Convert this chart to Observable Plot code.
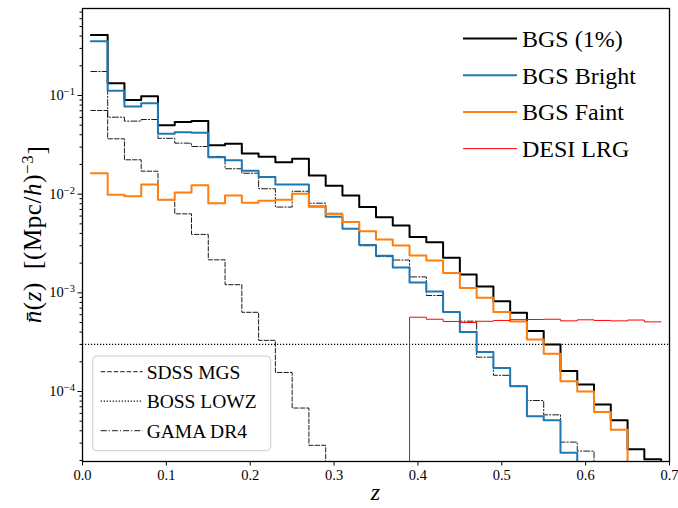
<!DOCTYPE html>
<html><head><meta charset="utf-8">
<script src="https://cdn.jsdelivr.net/npm/d3@7"></script>
<script src="https://cdn.jsdelivr.net/npm/@observablehq/plot@0.6"></script>
<style>
html,body{margin:0;padding:0;background:#fff;}
#chart svg{display:block;}
</style>
</head><body><div id="chart"></div>
<script>
// ---- data ----
const binLeft = [0.01,0.03,0.05,0.07,0.09,0.11,0.13,0.15,0.17,0.19,0.21,0.23,0.25,0.27,0.29,0.31,0.33,0.35,0.37,0.39,0.41,0.43,0.45,0.47,0.49,0.51,0.53,0.55,0.57,0.59,0.61,0.63,0.65,0.67];
const binEnd = 0.69;

const seriesNames = ["BGS (1%)", "BGS Bright", "BGS Faint", "DESI LRG"];
const refNames = ["SDSS MGS", "BOSS LOWZ", "GAMA DR4"];

const bgsAll = [0.41,0.133,0.090,0.098,0.050,0.054,0.055,0.0314,0.0324,0.0259,0.0239,0.0210,0.0229,0.0155,0.0122,0.0097,0.0074,0.00585,0.00482,0.00367,0.00326,0.00227,0.00153,0.00116,0.00082,0.00063,0.00041,0.00030,0.000161,0.000118,7.4e-5,5.1e-5,2.6e-5,2.06e-5];
const bgsBright = [0.355,0.112,0.0774,0.0836,0.0409,0.0425,0.0419,0.0237,0.0221,0.0173,0.0149,0.0125,0.0125,0.0075,0.0059,0.00447,0.00306,0.00237,0.00181,0.00127,0.00103,0.00064,0.00040,0.000251,0.000173,0.000113,5.6e-5,5.1e-5,2.4e-5,null,null,null,null,null];
const bgsFaint = [0.0163,0.00986,0.0095,0.0125,0.00877,0.0104,0.0123,0.0081,0.0097,0.0082,0.0086,0.00877,0.0101,0.0075,0.0063,0.00522,0.00422,0.00347,0.00302,0.00239,0.00213,0.00159,0.00112,0.00089,0.00064,0.000513,0.000337,0.000241,0.000127,0.00010,6.2e-5,4.1e-5,null,null];
const desiLRG = [null,null,null,null,null,null,null,null,null,null,null,null,null,null,null,null,null,null,null,0.000566,0.00054,0.000513,0.00050,0.000515,0.000525,0.000535,0.000537,0.00054,0.00052,0.000533,0.000525,0.00052,0.00053,0.000508];
const sdssMGS = [0.0705,0.0364,0.0223,0.0171,0.0088,0.00632,0.00391,0.00216,0.00121,0.000635,0.00033,0.000156,6.8e-5,2.85e-5,null,null,null,null,null,null,null,null,null,null,null,null,null,null,null,null,null,null,null,null];
const gamaDR4 = [0.175,0.0603,0.055,0.0571,0.0368,0.0329,0.0304,0.0241,0.0181,0.0163,0.01135,0.0074,0.0107,0.0081,0.0064,0.0052,0.0030,0.00233,0.00215,0.00145,0.00094,0.00064,0.000516,0.000223,0.000146,0.000114,8.1e-5,5.8e-5,3.07e-5,2.49e-5,null,null,null,null];
const bossLOWZ = [3.0e-4];

const xTicks = [0.0,0.1,0.2,0.3,0.4,0.5,0.6,0.7];
const yTicks = [1e-4,1e-3,1e-2,1e-1];

// ---- helpers ----
const FLOOR = 1e-9; // stands in for an empty bin (zero on a log axis)
function steps(values, dropAtEnd) {
  const idx = values.map((v,i)=> v==null ? -1 : i).filter(i=>i>=0);
  const i0 = idx[0], i1 = idx[idx.length-1];
  const pts = [];
  if (i0 > 0) pts.push({z: binLeft[i0-1], n: FLOOR});
  for (let i=i0;i<=i1;i++) pts.push({z: binLeft[i], n: values[i]});
  const right = i1+1 < binLeft.length ? binLeft[i1+1] : binEnd;
  pts.push({z: right, n: dropAtEnd ? FLOOR : values[i1]});
  return pts;
}
const yMinor = [];
for (let e=-5;e<=0;e++) for (let m=2;m<=9;m++) { const v = m*Math.pow(10,e); if (v>1.95e-5 && v<0.76) yMinor.push(v); }

const W = 678, H = 508, mL = 82, mR = 9, mT = 8, mB = 47;
const C = {all:"#000000", bright:"#1f77b4", faint:"#ff7f0e", lrg:"#ff0000"};
const DASH = "4.5,2", DOT = "1.2,1.8", DASHDOT = "6,2,1.2,2";
const SERIF = "'Liberation Serif', serif";

const chart = Plot.plot({
  width: W, height: H,
  marginTop: mT, marginBottom: mB, marginLeft: mL, marginRight: mR,
  style: {fontFamily: SERIF, fontSize: "14.5px", background: "#fff", color: "#000"},
  x: {domain: [0, 0.7]},
  y: {type: "log", domain: [1.953e-5, 0.7615]},
  marks: [
    Plot.ruleY(bossLOWZ, {stroke: "#000", strokeWidth: 1.2, strokeDasharray: DOT}),
    Plot.line(steps(sdssMGS, true), {x: "z", y: "n", curve: "step-after", stroke: "#000", strokeWidth: 0.9, strokeDasharray: DASH, clip: true}),
    Plot.line(steps(gamaDR4, true), {x: "z", y: "n", curve: "step-after", stroke: "#000", strokeWidth: 0.9, strokeDasharray: DASHDOT, clip: true}),
    Plot.line(steps(bgsAll, true), {x: "z", y: "n", curve: "step-after", stroke: C.all, strokeWidth: 2, clip: true}),
    Plot.line(steps(bgsBright, true), {x: "z", y: "n", curve: "step-after", stroke: C.bright, strokeWidth: 2, clip: true}),
    Plot.line(steps(bgsFaint, true), {x: "z", y: "n", curve: "step-after", stroke: C.faint, strokeWidth: 2, clip: true}),
    Plot.line(steps(desiLRG, false), {x: "z", y: "n", curve: "step-after", stroke: C.lrg, strokeWidth: 1, clip: true}),
    Plot.frame({stroke: "#000", strokeWidth: 1.3}),
    Plot.axisX({ticks: xTicks, tickFormat: d3.format(".1f"), tickSize: 4.5, tickPadding: 4, label: null}),
    Plot.axisY({ticks: yTicks, tickSize: 4.5, tickPadding: 3, label: null,
      tickFormat: d => "10^" + Math.round(Math.log10(d))}),
    Plot.axisY({ticks: yMinor, tickSize: 2.5, fill: "none", label: null})
  ]
});
document.getElementById("chart").appendChild(chart);

const svg = d3.select(chart);
// superscripts for y tick labels
svg.selectAll('g[aria-label="y-axis tick label"] text').each(function() {
  const t = d3.select(this);
  const s = t.text();
  const exp = s.split("^")[1].replace("-", "\u2212");
  t.text("10");
  t.append("tspan").attr("dy", "-0.5em").attr("font-size", "10.5px").text(exp);
});

// y label
const yl = svg.append("text")
  .attr("transform", `translate(41,${(mT + H - mB)/2}) rotate(-90)`)
  .attr("text-anchor", "middle")
  .attr("font-family", SERIF)
  .attr("font-size", "25px")
  .attr("letter-spacing", "0.6px")
  .attr("fill", "#000");
yl.append("tspan").attr("font-style", "italic").text("n\u0304");
yl.append("tspan").text("(");
yl.append("tspan").attr("font-style", "italic").text("z");
yl.append("tspan").text(")\u2002[(Mpc/");
yl.append("tspan").attr("font-style", "italic").text("h");
yl.append("tspan").text(")");
yl.append("tspan").attr("dy", "-0.45em").attr("font-size", "17px").text("\u22123");
yl.append("tspan").attr("dy", "0.45em").text("]");

// x label
svg.append("text")
  .attr("x", mL + (W - mL - mR)/2).attr("y", 500)
  .attr("text-anchor", "middle")
  .attr("font-family", SERIF)
  .attr("font-style", "italic")
  .attr("font-size", "24px")
  .attr("fill", "#000")
  .text("z");

// upper-right legend (no frame)
const right = W - mR;
const topItems = [
  {name: seriesNames[0], color: C.all, w: 2},
  {name: seriesNames[1], color: C.bright, w: 2},
  {name: seriesNames[2], color: C.faint, w: 2},
  {name: seriesNames[3], color: C.lrg, w: 1}
];
const gTop = svg.append("g");
topItems.forEach((it, i) => {
  const y = 38.5 + i*36.7;
  gTop.append("line").attr("x1", right-206).attr("x2", right-152).attr("y1", y).attr("y2", y)
    .attr("stroke", it.color).attr("stroke-width", it.w);
  gTop.append("text").attr("x", right-147).attr("y", y).attr("dy", "0.35em")
    .attr("text-anchor", "start")
    .attr("font-family", SERIF).attr("font-size", "24px").attr("fill", "#000")
    .text(it.name);
});

// lower-left legend (framed)
const bottom = H - mB;
const gBot = svg.append("g");
gBot.append("rect").attr("x", mL+10.7).attr("y", bottom-105).attr("width", 178).attr("height", 94.7)
  .attr("rx", 4).attr("fill", "#fff").attr("fill-opacity", 0.85).attr("stroke", "#cccccc").attr("stroke-width", 1);
const botItems = [
  {name: refNames[0], dash: DASH, w: 0.9},
  {name: refNames[1], dash: DOT, w: 1.2},
  {name: refNames[2], dash: DASHDOT, w: 0.9}
];
botItems.forEach((it, i) => {
  const y = bottom - 89.3 + i*29.5;
  gBot.append("line").attr("x1", mL+18.7).attr("x2", mL+60.7).attr("y1", y).attr("y2", y)
    .attr("stroke", "#000").attr("stroke-width", it.w).attr("stroke-dasharray", it.dash);
  gBot.append("text").attr("x", mL+64.7).attr("y", y).attr("dy", "0.35em")
    .attr("text-anchor", "start")
    .attr("font-family", SERIF).attr("font-size", "19.5px").attr("fill", "#000")
    .text(it.name);
});
</script>
</body></html>
